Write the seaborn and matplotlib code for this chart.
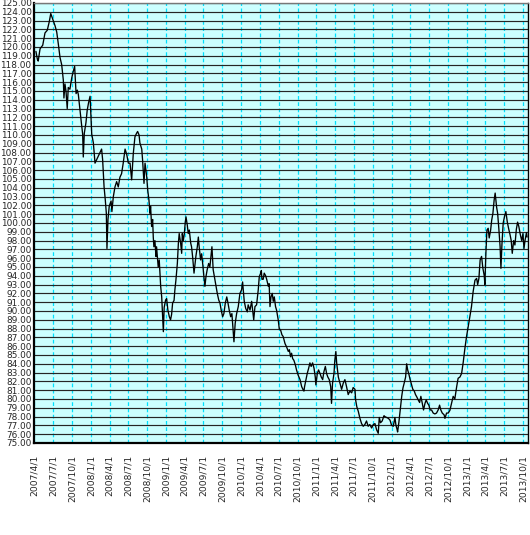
import numpy as np
import pandas as pd
import matplotlib
matplotlib.use("Agg")
import matplotlib.pyplot as plt
import seaborn as sns

# ---- data ----
start_date = "2007-04-01"
# days since start_date
day_offsets = [
    8, 15, 19, 28, 41, 52, 63, 73, 80, 89, 101, 109, 117, 125, 133, 141, 144, 149, 154, 160,
    165, 173, 182, 189, 196, 203, 209, 214, 222, 230, 235, 238, 243, 251, 257, 264, 271, 279,
    287, 295, 303, 311, 319, 327, 332, 339, 345, 350, 353, 358, 364, 373, 377, 384, 392, 400,
    408, 416, 424, 432, 441, 449, 457,
    465, 473, 481, 489, 497, 502, 509, 513, 522, 526, 533, 538, 546, 551, 557, 562, 565, 570,
    575, 578, 581, 586, 591, 594, 602, 607, 614, 619, 623, 627, 631, 638, 643, 649, 656, 662,
    667, 672, 679, 683, 688, 695, 700, 704, 711, 716, 719, 724, 729, 733, 737, 743, 748, 753,
    760, 764, 769, 776, 781, 785, 792, 797, 801, 808, 813, 818, 824, 829, 834, 840, 847, 853,
    858, 863, 869, 878, 883, 889, 896, 902, 908, 915, 921, 928, 935, 941, 947, 954, 960, 967, 970,
    976, 983, 991, 999, 1007, 1012, 1020, 1027, 1035, 1039, 1048, 1056, 1061, 1066, 1072, 1080,
    1088, 1093, 1100, 1103, 1106, 1112, 1117, 1124, 1129, 1137, 1141, 1145, 1150, 1156, 1161,
    1166, 1172, 1177, 1185, 1190, 1197, 1203, 1209, 1218, 1226, 1234, 1239, 1245, 1250, 1255,
    1261, 1268, 1274, 1282, 1291, 1299, 1307, 1310, 1313, 1320, 1326, 1333, 1339, 1345, 1352,
    1359, 1365, 1368, 1375, 1381, 1388, 1394, 1401, 1407, 1414, 1420, 1426, 1433, 1440, 1444,
    1449, 1456, 1460, 1465,
    1469, 1477, 1485, 1493, 1501, 1509, 1517, 1525, 1533, 1542, 1549, 1558, 1561, 1567, 1574,
    1582, 1590, 1598, 1606, 1614, 1622, 1630, 1639, 1647, 1655, 1663, 1671, 1676, 1682, 1690,
    1699, 1703, 1712, 1720, 1728, 1736, 1744, 1752, 1757, 1762, 1765, 1771, 1778, 1785, 1791,
    1797, 1804, 1809, 1814, 1820, 1826, 1833, 1839, 1846, 1852, 1859, 1865, 1872, 1878, 1885,
    1891, 1898, 1904, 1911, 1917, 1923, 1930, 1938, 1946, 1954, 1962, 1969, 1975, 1982, 1991,
    1995, 2003, 2011, 2019, 2027, 2035, 2043, 2052, 2059, 2068, 2076, 2084, 2092, 2100, 2108,
    2116, 2124, 2132, 2141, 2149, 2154, 2160, 2166, 2173, 2179, 2186, 2189, 2194, 2199, 2205,
    2210, 2217, 2222, 2228, 2234, 2239, 2246, 2251, 2257, 2263, 2267, 2272, 2278, 2285, 2291,
    2298, 2305, 2311, 2317, 2322, 2329, 2335, 2342, 2348, 2354, 2361, 2368, 2374, 2379, 2384,
    2391, 2394,
]
rates = [
    119.5, 118.6, 118.4, 119.8, 120.2, 121.6, 121.9, 122.9, 123.8, 123.2, 122.4, 121.7, 120.3,
    118.8, 118.0, 116.25, 114.2, 115.8, 115.0, 113.0, 115.4, 115.2, 116.5, 117.2, 117.8, 114.7,
    115.1, 114.6, 112.8, 111.1, 110.1, 107.5, 110.2, 111.4, 112.8, 113.7, 114.4, 110.1, 109.1,
    106.8, 107.2, 107.6, 108.0, 108.4, 107.2, 104.1, 102.6, 101.1, 97.1, 100.4, 101.9, 102.5,
    101.3, 103.0, 104.1, 104.7, 104.1, 105.2, 105.6, 106.8, 108.4, 107.8, 106.8,
    106.8, 104.9, 107.9, 109.8, 110.2, 110.4, 110.0, 109.1, 108.4, 107.2, 104.5, 106.8, 105.3,
    103.75, 102.6, 101.1, 101.9, 99.6, 100.4, 98.4, 97.3, 98.0, 96.2, 97.3, 95.0, 95.8, 92.8,
    91.6, 89.7, 87.65, 90.4, 91.25, 91.4, 90.1, 89.35, 89.0, 89.6, 90.9, 91.2, 92.4, 93.5, 95.4,
    97.7, 98.8, 97.7, 96.55, 98.8, 98.0, 98.8, 100.0, 100.7, 99.8, 98.8, 99.2, 97.7, 97.3, 96.2,
    94.3, 95.4, 96.2, 97.3, 98.4, 97.3, 95.8, 96.5, 95.4, 93.9, 92.8, 93.9, 94.7, 95.4, 95.0,
    96.2, 97.3, 94.7, 93.5, 92.8, 92.0, 91.25, 90.9, 90.1, 89.35, 89.7, 90.9, 91.6, 90.9, 90.1,
    89.35, 89.7, 87.45, 86.5,
    88.6, 89.7, 90.5, 92.0, 92.4, 93.3, 91.1, 90.3, 89.9, 90.7, 90.1, 91.1, 90.1, 89.0, 90.5,
    90.7, 92.4, 93.9, 94.3, 94.6, 93.6, 93.6, 94.3, 94.0, 93.6, 92.8, 93.1, 90.5, 91.6, 92.0,
    91.1, 91.6, 90.5, 90.1, 89.0, 88.0, 87.8, 87.3, 87.1, 86.3, 85.9, 85.4, 85.6, 84.8, 85.2,
    84.6, 84.4, 83.9, 83.3, 82.7, 82.2, 81.4, 81.0, 80.9, 81.4, 82.2, 82.9, 83.5, 84.1, 83.7,
    84.1, 83.5, 82.5, 81.6, 82.9, 83.3, 82.9, 82.5, 82.2, 83.1, 83.7, 82.9, 82.5, 82.2, 81.4,
    79.5, 81.8, 82.9, 84.4, 85.4,
    84.1, 82.5, 81.8, 81.1, 81.8, 82.2, 81.4, 80.5, 80.9, 80.7, 81.3, 81.1, 79.9, 79.1, 78.6,
    77.8, 77.2, 76.9, 77.1, 77.5, 76.9, 77.1, 76.7, 77.1, 77.2, 76.5, 76.1, 77.9, 77.3, 77.5,
    78.1, 78.0, 77.9, 77.8, 77.6, 77.0, 76.9, 77.9, 77.0, 76.6, 76.25, 77.3, 78.75, 80.3, 81.25,
    81.8, 82.5, 84.0, 83.3, 82.8, 82.2, 81.6, 81.1, 80.9, 80.5, 80.2, 79.9, 79.6, 80.3, 79.5,
    78.75, 79.5, 79.9, 79.5, 79.3, 78.75, 78.75, 78.4, 78.3, 78.4, 78.75, 79.3, 78.75, 78.4, 78.2,
    77.8, 78.4, 78.4, 78.7, 79.5, 80.3, 80.0, 81.4, 82.35, 82.5, 82.9, 84.2, 85.75, 87.1, 88.2,
    89.35, 90.5, 92.2, 93.5, 93.7, 93.0, 93.7, 95.8, 96.2, 94.9, 94.0, 93.0, 96.6, 99.2, 99.4,
    98.3, 99.2, 100.3, 101.1, 102.6, 103.4, 101.8, 101.1, 99.3, 97.3, 94.85, 97.6, 100.0, 100.8,
    101.3, 100.1, 99.3, 98.7, 98.0, 96.55, 98.0, 97.5, 99.3, 100.1, 99.6, 98.7, 98.0, 98.8, 97.1,
    98.0, 98.9, 98.4,
]
tick_dates = [
    "2007-04-01", "2007-07-01", "2007-10-01", "2008-01-01", "2008-04-01", "2008-07-01",
    "2008-10-01", "2009-01-01", "2009-04-01", "2009-07-01", "2009-10-01", "2010-01-01",
    "2010-04-01", "2010-07-01", "2010-10-01", "2011-01-01", "2011-04-01", "2011-07-01",
    "2011-10-01", "2012-01-01", "2012-04-01", "2012-07-01", "2012-10-01", "2013-01-01",
    "2013-04-01", "2013-07-01", "2013-10-01",
]
y_min, y_max = 75, 125
x_end = "2013-10-26"

# ---- build frame ----
dates = pd.Timestamp(start_date) + pd.to_timedelta(day_offsets, unit="D")
df = pd.DataFrame({"date": dates, "rate": rates})

sns.set_style("white")
plt.rcParams["font.family"] = ["DejaVu Sans"]

fig = plt.figure(figsize=(5.30, 5.35), dpi=100)
ax = fig.add_axes([0.0647, 0.1720, 0.9321, 0.8224])
ax.set_facecolor("#CCFFFF")

sns.lineplot(data=df, x="date", y="rate", ax=ax, color="black", linewidth=0.95,
             estimator=None, legend=False, zorder=3)

ax.set_xlim(pd.Timestamp(start_date), pd.Timestamp(x_end))
ax.set_ylim(y_min, y_max)

yt = np.arange(y_min, y_max + 1, 1)
ax.set_yticks(yt)
ax.set_yticklabels([f"{v:.2f}" for v in yt], fontsize=6.4)

td = pd.to_datetime(tick_dates)
ax.set_xticks(td)
ax.set_xticklabels([f"{d.year}/{d.month}/{d.day}" for d in td], rotation=90, fontsize=6.6)

ax.yaxis.grid(True, color="#262626", linewidth=0.85, zorder=1)
ax.xaxis.grid(True, color="#00E0FF", linewidth=0.9, linestyle=(0, (3, 2)), zorder=1)
ax.set_axisbelow(True)

ax.tick_params(axis="y", length=0, pad=2)
ax.tick_params(axis="x", length=2.5, width=0.8, direction="out", pad=6, color="black")

for side in ["left", "bottom"]:
    ax.spines[side].set_color("black")
    ax.spines[side].set_linewidth(1.6)
ax.spines["right"].set_color("black")
ax.spines["right"].set_linewidth(1.0)
ax.spines["top"].set_color("#777777")
ax.spines["top"].set_linewidth(1.0)
ax.set_xlabel("")
ax.set_ylabel("")

fig.savefig("out.png", dpi=100, facecolor="white")
